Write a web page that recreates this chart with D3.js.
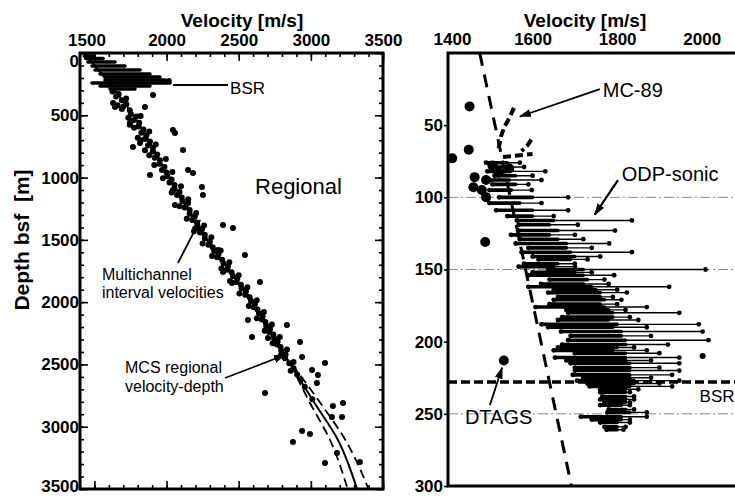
<!DOCTYPE html>
<html lang="en">
<head>
<meta charset="UTF-8">
<title>Velocity-depth: regional and ODP-sonic</title>
<script src="https://cdnjs.cloudflare.com/ajax/libs/d3/7.8.5/d3.min.js"></script>
<style>
  body { margin: 0; background: #fff; }
  svg { display: block; font-family: "Liberation Sans", Arial, sans-serif; }
  .tick text { font-weight: bold; font-size: 17px; fill: #000; }
  .tick line { stroke: #000; stroke-width: 1.6; }
</style>
</head>
<body>
<div id="chart"></div>
<script>
// ---------- left panel (regional) ----------
// solid regional velocity-depth function
const regionalDepth = [0, 500, 1000, 1500, 2000, 2500, 2800, 3100, 3500];
const regionalVel   = [1430, 1770, 2020, 2280, 2600, 2860, 3020, 3185, 3320];
// dashed bounds
const boundDepth = [2500, 2800, 3100, 3500];
const lowerVel   = [2860, 2990, 3130, 3255];
const upperVel   = [2870, 3060, 3236, 3400];

// multichannel interval velocities [depth, velocity]
const intervalPts = [
  [225,2015],[337,1906],[401,1629],
  [310,1625],[330,1668],[350,1650],[380,1690],[410,1722],[430,1700],[460,1745],[420,1660],
  [490,1752],[510,1790],[540,1770],[560,1810],[520,1735],[590,1805],[615,1840],[640,1825],
  [660,1860],[600,1775],[690,1850],[710,1885],[740,1872],[760,1905],[700,1820],[790,1905],
  [815,1935],[840,1918],[860,1955],[820,1880],[890,1950],[915,1985],[940,1968],[960,2000],
  [990,2005],[1015,2035],[1040,2020],[1060,2055],[1090,2055],[1115,2090],[1140,2072],
  [1160,2105],[1190,2110],[1215,2140],[1240,2125],[1260,2160],[1290,2160],[1315,2195],
  [1340,2178],[1360,2210],[1390,2215],[1415,2245],[1440,2232],[1460,2265],[1490,2265],
  [1515,2300],[1540,2290],[1560,2320],[1590,2330],[1615,2360],[1640,2350],[1660,2385],
  [1690,2395],[1715,2425],[1740,2418],[1760,2450],[1790,2460],[1815,2490],[1840,2480],
  [1860,2515],[1890,2520],[1915,2550],[1940,2545],[1960,2575],[1990,2585],[2015,2612],
  [2040,2605],[2060,2630],[2090,2640],[2115,2665],[2140,2660],[2160,2685],[2190,2690],
  [2215,2718],[2240,2710],[2260,2740],[2290,2745],[2315,2770],[2340,2765],[2360,2790],
  [2390,2795],[2420,2825],[2450,2820],[2490,2850],[2530,2880],[2580,2905],[2620,2930],
  [2680,2958],[2780,3010],
  // second pass of the band, slightly off the trend
  [365,1720],[450,1690],[505,1820],[575,1745],[630,1880],[680,1800],[735,1925],[780,1850],
  [850,1995],[900,1915],[955,2040],[1005,1975],[1070,2100],[1120,2035],[1175,2150],
  [1230,2090],[1285,2205],[1330,2140],[1385,2260],[1430,2190],[1480,2310],[1530,2250],
  [1585,2375],[1630,2315],[1680,2435],[1730,2380],[1785,2500],[1830,2440],[1880,2560],
  [1930,2505],[1985,2625],[2030,2570],[2080,2675],[2130,2625],[2180,2730],[2230,2680],
  [2280,2785],[2330,2735],[2380,2835],[2430,2790],[2480,2880],[2550,2860],
  // scattered values
  [433,1643],[433,1850],[562,1746],[618,2044],[642,2058],[755,1767],[722,1816],[779,2114],
  [979,1885],[939,2149],[963,2183],[1100,2044],[1076,2245],[1140,2252],[1220,2058],
  [1204,2149],[1381,2391],[1405,2460],[1581,2356],[1758,2391],[1846,2453],[1622,2543],
  [1838,2647],[2143,2564],[2280,2592],[2288,2703],[2184,2834],[2320,2925],[2440,2939],
  [2489,3098],[2545,3008],[2585,3049],[2649,3042],[2730,2682],[2834,3153],[2810,3223],
  [2922,3146],[2922,3216],[3034,2939],[3059,2994],[3123,2876],[3211,3181],[3291,3098],
  [3283,3340]
];

// shallow streaks around the BSR [depth, vmin, vmax]
const shallowStreaks = [
  [25,1430,1490],[45,1440,1560],[72,1455,1643],[104,1483,1712],[136,1504,1816],
  [169,1539,1885],[193,1573,1954],[217,1573,1989],[241,1483,2024],[265,1539,1885],
  [289,1608,1781]
];

const leftXTicks = [1500, 2000, 2500, 3000, 3500];
const leftYTicks = [0, 500, 1000, 1500, 2000, 2500, 3000, 3500];

// ---------- right panel (ODP site) ----------
// ODP sonic log [depth, vmin, core end, vmax]
const sonic = [
  [76,1490,1540,1570],[79,1500,1550,1580],[82,1493,1540,1630],[85,1510,1560,1600],
  [88,1498,1545,1621],[91,1505,1560,1590],[95,1498,1550,1598],[100,1521,1600,1684],
  [104,1498,1570,1621],[109,1514,1600,1684],[113,1540,1600,1650],[116,1563,1650,1835],
  [119,1567,1640,1707],[123,1567,1660,1795],[126,1549,1640,1700],[129,1570,1660,1720],
  [132,1560,1680,1781],[135,1590,1680,1740],[138,1574,1690,1835],[141,1600,1700,1760],
  [143,1614,1690,1730],[146,1580,1660,1700],[148,1567,1650,1700],[150,1637,1720,2009],
  [152,1600,1700,1740],[154,1590,1720,1793],[157,1640,1730,1770],[160,1620,1720,1780],
  [162,1590,1740,1923],[164,1650,1750,1800],[166,1637,1760,1823],[169,1660,1760,1790],
  [171,1650,1770,1810],[174,1640,1760,1800],[176,1607,1770,1870],[178,1680,1780,1820],
  [180,1684,1790,1947],[183,1670,1790,1830],[185,1660,1780,1850],[188,1621,1800,1993],
  [190,1637,1790,1870],[193,1667,1810,2002],[196,1690,1810,1880],[199,1684,1820,2016],
  [202,1670,1820,1920],[204,1660,1800,1840],[206,1650,1790,1870],[208,1700,1820,1900],
  [211,1653,1820,1947],[213,1680,1820,1880],[215,1690,1830,1947],[218,1700,1830,1900],
  [220,1700,1830,1947],[223,1695,1830,1930],[225,1720,1830,1880],[227,1705,1840,1947],
  [229,1730,1840,1900],[231,1735,1830,1930],[233,1760,1820,1850],[235,1760,1820,1830],
  [238,1765,1820,1840],[240,1760,1820,1840],[242,1770,1820,1830],[244,1760,1810,1830],
  [247,1780,1820,1840],[249,1777,1830,1870],[252,1714,1810,1870],[254,1740,1810,1830],
  [256,1760,1800,1830],[259,1770,1800,1820],[261,1775,1800,1815]
];
const sonicDots = [[210,2002]];

// MC-89 profile pieces [depth, velocity]
const mc89 = [
  [[38,1556],[45,1545],[52,1532],[58,1525],[66,1520]],
  [[60,1597],[64,1588],[68,1574]],
  [[72,1530],[71,1565],[70,1600]]
];

// DTAGS [depth, velocity]
const dtags = [
  [37,1451],[67,1449],[73,1410],[86,1463],[93,1460],[88,1490],[100,1490],[131,1488],
  [213,1532],[78,1505],[83,1520],[80,1545],[95,1480]
];

const trendDepth = [0, 300];
const trendVel = [1475, 1692];
const bsrDepth = 228;
const gridDepths = [100, 150, 250];
const rightXTicks = [1400, 1600, 1800, 2000];
const rightYTicks = [50, 100, 150, 200, 250, 300];

// ---------- drawing ----------
const width = 735, height = 500;
const svg = d3.select("#chart").append("svg")
  .attr("width", width).attr("height", height);

const defs = svg.append("defs");
defs.append("marker")
  .attr("id", "arrow")
  .attr("viewBox", "0 0 12 8")
  .attr("refX", 11).attr("refY", 4)
  .attr("markerUnits", "userSpaceOnUse")
  .attr("markerWidth", 12).attr("markerHeight", 8)
  .attr("orient", "auto")
  .append("path").attr("d", "M0,0 L12,4 L0,8 z").attr("fill", "#000");

const xL = d3.scaleLinear().domain([1400, 3500]).range([80, 383]);
const yL = d3.scaleLinear().domain([0, 3500]).range([53, 489]);
const xR = d3.scaleLinear().domain([1400, 2100]).range([448, 744]);
const yR = d3.scaleLinear().domain([0, 300]).range([53, 486]);
const fmt = d3.format("d");

// --- left panel ---
const gL = svg.append("g");

// minor + major ticks, inward on all four sides
const minorV = d3.range(1400, 3501, 100);
const minorD = d3.range(0, 3501, 100);
function tickAxis(axis, y, x) {
  return gL.append("g").attr("transform", `translate(${x || 0},${y || 0})`).call(axis)
    .call(g => g.select(".domain").remove());
}
tickAxis(d3.axisTop(xL).tickValues(minorV).tickSize(-4).tickFormat(""), 53);
tickAxis(d3.axisBottom(xL).tickValues(minorV).tickSize(-4).tickFormat(""), 489);
tickAxis(d3.axisLeft(yL).tickValues(minorD).tickSize(-4).tickFormat(""), 0, 80);
tickAxis(d3.axisRight(yL).tickValues(minorD).tickSize(-4).tickFormat(""), 0, 383);
tickAxis(d3.axisBottom(xL).tickValues(leftXTicks).tickSize(-8).tickFormat(""), 489);
tickAxis(d3.axisRight(yL).tickValues(leftYTicks).tickSize(-8).tickFormat(""), 0, 383);
tickAxis(d3.axisTop(xL).tickValues(leftXTicks).tickFormat(fmt)
  .tickSizeInner(-8).tickSizeOuter(0).tickPadding(7), 53)
  .call(g => g.selectAll(".tick text").filter(d => d === 1500).attr("dx", -8));
tickAxis(d3.axisLeft(yL).tickValues(leftYTicks).tickFormat(fmt)
  .tickSizeInner(-8).tickSizeOuter(0).tickPadding(1), 0, 80)
  .call(g => g.selectAll(".tick text").filter(d => d === 0).attr("dy", "0.78em"))
  .call(g => g.selectAll(".tick text").filter(d => d === 3500).attr("dy", "0.15em"));

// shallow streaks
gL.append("g").selectAll("line").data(shallowStreaks).join("line")
  .attr("x1", d => xL(d[1])).attr("x2", d => xL(d[2]))
  .attr("y1", d => yL(d[0])).attr("y2", d => yL(d[0]))
  .attr("stroke", "#000").attr("stroke-width", 3.5).attr("stroke-linecap", "round");

// interval velocity points
gL.append("g").selectAll("circle").data(intervalPts).join("circle")
  .attr("cx", d => xL(d[1])).attr("cy", d => yL(d[0]))
  .attr("r", 3).attr("fill", "#000");

// regional function and bounds
const lineL = d3.line().curve(d3.curveMonotoneY);
gL.append("path")
  .attr("d", lineL(regionalDepth.map((d, i) => [xL(regionalVel[i]), yL(d)])))
  .attr("fill", "none").attr("stroke", "#000").attr("stroke-width", 2);
[lowerVel, upperVel].forEach(vs => {
  gL.append("path")
    .attr("d", lineL(boundDepth.map((d, i) => [xL(vs[i]), yL(d)])))
    .attr("fill", "none").attr("stroke", "#000").attr("stroke-width", 1.8)
    .attr("stroke-dasharray", "9,5");
});

// frame
gL.append("rect")
  .attr("x", xL(1400)).attr("y", yL(0))
  .attr("width", xL(3500) - xL(1400)).attr("height", yL(3500) - yL(0))
  .attr("fill", "none").attr("stroke", "#000").attr("stroke-width", 3);

// labels
gL.append("text").attr("x", 242).attr("y", 27).attr("text-anchor", "middle")
  .attr("font-size", 19).attr("font-weight", "bold").text("Velocity [m/s]");
gL.append("text").attr("transform", "translate(29,240) rotate(-90)")
  .attr("text-anchor", "middle").attr("font-size", 21).attr("font-weight", "bold")
  .style("white-space", "pre").text("Depth bsf  [m]");
gL.append("text").attr("x", xL(2613)).attr("y", yL(1132))
  .attr("font-size", 22).text("Regional");

function note(g, x, y, lines, size, lh) {
  const t = g.append("text").attr("x", x).attr("y", y).attr("font-size", size);
  lines.forEach((s, i) => t.append("tspan").attr("x", x).attr("dy", i ? lh : 0).text(s));
}
function arrow(g, x1, y1, x2, y2, w) {
  g.append("line").attr("x1", x1).attr("y1", y1).attr("x2", x2).attr("y2", y2)
    .attr("stroke", "#000").attr("stroke-width", w || 1.8).attr("marker-end", "url(#arrow)");
}

// BSR label with leader line
gL.append("line").attr("x1", xL(2045)).attr("x2", xL(2426))
  .attr("y1", yL(257)).attr("y2", yL(257)).attr("stroke", "#000").attr("stroke-width", 2);
gL.append("text").attr("x", xL(2440)).attr("y", yL(329)).attr("font-size", 17).text("BSR");

note(gL, xL(1552), yL(1822), ["Multichannel", "interval velocities"], 16, 18);
arrow(gL, xL(2079), yL(1686), xL(2232), yL(1341));
note(gL, xL(1712), yL(2569), ["MCS regional", "velocity-depth"], 16, 19);
arrow(gL, xL(2405), yL(2609), xL(2821), yL(2424));

// --- right panel ---
const gR = svg.append("g");

gR.append("g").selectAll("line").data(gridDepths).join("line")
  .attr("x1", xR(1400)).attr("x2", xR(2100))
  .attr("y1", d => yR(d)).attr("y2", d => yR(d))
  .attr("stroke", "#888").attr("stroke-width", 1).attr("stroke-dasharray", "10,3,2,3");

gR.append("g").attr("transform", `translate(0,${yR(0)})`)
  .call(d3.axisTop(xR).tickValues(rightXTicks).tickFormat(fmt).tickSize(0).tickPadding(8))
  .call(g => g.select(".domain").remove())
  .call(g => g.selectAll(".tick text").filter(d => d === 1400).attr("dx", 4));
gR.append("g").attr("transform", `translate(${xR(1400)},0)`)
  .call(d3.axisLeft(yR).tickValues(rightYTicks).tickFormat(fmt)
    .tickSizeInner(4).tickSizeOuter(0).tickPadding(1))
  .call(g => g.select(".domain").remove())
  .call(g => g.selectAll(".tick line").attr("stroke-width", 1).attr("stroke", "#555"));

// BSR dashed line
gR.append("line").attr("x1", xR(1400)).attr("x2", xR(2100))
  .attr("y1", yR(bsrDepth)).attr("y2", yR(bsrDepth))
  .attr("stroke", "#000").attr("stroke-width", 3.5).attr("stroke-dasharray", "9,4");

// trend dashed line
gR.append("line")
  .attr("x1", xR(trendVel[0])).attr("y1", yR(trendDepth[0]))
  .attr("x2", xR(trendVel[1])).attr("y2", yR(trendDepth[1]))
  .attr("stroke", "#000").attr("stroke-width", 3).attr("stroke-dasharray", "13,9");

// sonic streaks
const sg = gR.append("g");
sg.selectAll(".thin").data(sonic).join("line").attr("class", "thin")
  .attr("x1", d => xR(d[1])).attr("x2", d => xR(d[3]))
  .attr("y1", d => yR(d[0])).attr("y2", d => yR(d[0]))
  .attr("stroke", "#000").attr("stroke-width", 1.4);
sg.selectAll(".core").data(sonic).join("line").attr("class", "core")
  .attr("x1", d => xR(d[1])).attr("x2", d => xR(d[2]))
  .attr("y1", d => yR(d[0])).attr("y2", d => yR(d[0]))
  .attr("stroke", "#000").attr("stroke-width", 3.6).attr("stroke-linecap", "round");
sg.selectAll(".start").data(sonic).join("circle").attr("class", "start")
  .attr("cx", d => xR(d[1])).attr("cy", d => yR(d[0])).attr("r", 2.4).attr("fill", "#000");
sg.selectAll(".end").data(sonic).join("circle").attr("class", "end")
  .attr("cx", d => xR(d[3])).attr("cy", d => yR(d[0])).attr("r", 2.4).attr("fill", "#000");
sg.selectAll(".dot").data(sonicDots).join("circle").attr("class", "dot")
  .attr("cx", d => xR(d[1])).attr("cy", d => yR(d[0])).attr("r", 3).attr("fill", "#000");

// MC-89
gR.append("g").selectAll("path").data(mc89).join("path")
  .attr("d", d => d3.line()(d.map(p => [xR(p[1]), yR(p[0])])))
  .attr("fill", "none").attr("stroke", "#000").attr("stroke-width", 4)
  .attr("stroke-dasharray", "8,4");

// DTAGS
gR.append("g").selectAll("circle").data(dtags).join("circle")
  .attr("cx", d => xR(d[1])).attr("cy", d => yR(d[0])).attr("r", 5).attr("fill", "#000");

// frame (right side runs off the page)
gR.append("path")
  .attr("d", `M${xR(2100)},${yR(0)} H${xR(1400)} V${yR(300)} H${xR(2100)}`)
  .attr("fill", "none").attr("stroke", "#000").attr("stroke-width", 3);

gR.append("text").attr("x", 585).attr("y", 27).attr("text-anchor", "middle")
  .attr("font-size", 19).attr("font-weight", "bold").text("Velocity [m/s]");

gR.append("text").attr("x", xR(1766)).attr("y", yR(30.5)).attr("font-size", 20).text("MC-89");
arrow(gR, xR(1759), yR(25), xR(1570), yR(44));
gR.append("text").attr("x", xR(1811)).attr("y", yR(89)).attr("font-size", 20).text("ODP-sonic");
arrow(gR, xR(1802), yR(88), xR(1747), yR(112), 2.2);
gR.append("text").attr("x", xR(1440)).attr("y", yR(257)).attr("font-size", 20).text("DTAGS");
arrow(gR, xR(1499), yR(244), xR(1528), yR(218));
gR.append("text").attr("x", xR(1995)).attr("y", yR(242)).attr("font-size", 17).text("BSR");
</script>
</body>
</html>
